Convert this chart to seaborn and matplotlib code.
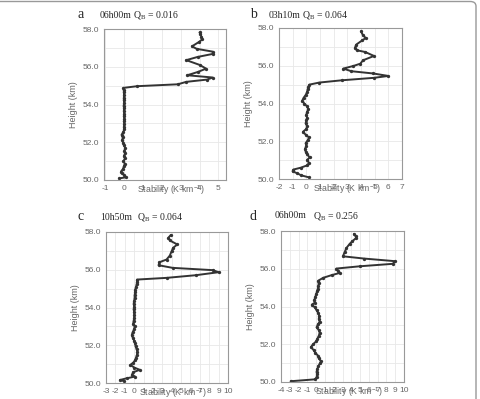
import numpy as np
import pandas as pd
import matplotlib
matplotlib.use("Agg")
import matplotlib.pyplot as plt
from matplotlib.patches import FancyBboxPatch
from matplotlib.ticker import MultipleLocator, FormatStrFormatter
import seaborn as sns

# stability (K/km) vs height (km) for the four runs
height_a = [50.08, 50.15, 50.25, 50.35, 50.45, 50.58, 50.72, 50.86, 51.0, 51.14, 51.28, 51.42,
            51.56, 51.7, 51.84, 51.98, 52.12, 52.26, 52.4, 52.54, 52.68, 52.82, 52.96, 53.1,
            53.24, 53.38, 53.52, 53.66, 53.8, 53.94, 54.08, 54.22, 54.36, 54.5, 54.64, 54.78,
            54.88, 54.97, 55.07, 55.2, 55.32, 55.43, 55.55, 55.72, 55.9, 56.1, 56.35, 56.52,
            56.68, 56.8, 56.95, 57.08, 57.3, 57.45, 57.6, 57.72, 57.82]
stab_a = [-0.25, 0.12, 0.02, -0.08, -0.15, -0.05, 0.0, 0.05, -0.02, 0.06, 0.0, 0.08,
          0.03, 0.07, 0.0, -0.04, -0.08, -0.06, -0.12, -0.03, 0.02, 0.0, 0.03, 0.0,
          0.03, 0.0, 0.02, 0.0, 0.01, -0.01, 0.02, 0.0, 0.0, 0.01, 0.0, 0.0,
          -0.02, 0.7, 2.85, 3.3, 4.4, 4.7, 3.35, 3.9, 4.35, 4.0, 3.3, 3.9,
          4.7, 4.7, 3.85, 3.6, 3.95, 4.15, 4.1, 4.05, 4.0]

height_b = [50.08, 50.2, 50.3, 50.4, 50.5, 50.6, 50.72, 50.85, 51.0, 51.15, 51.3, 51.45,
            51.6, 51.75, 51.9, 52.05, 52.2, 52.35, 52.5, 52.65, 52.8, 52.95, 53.1, 53.25,
            53.4, 53.55, 53.7, 53.85, 54.0, 54.15, 54.3, 54.45, 54.6, 54.75, 54.88, 55.0,
            55.11, 55.23, 55.36, 55.46, 55.59, 55.71, 55.85, 55.99, 56.11, 56.29, 56.52, 56.73,
            56.82, 56.94, 57.12, 57.35, 57.47, 57.61, 57.82]
stab_b = [0.22, -0.4, -0.65, -1.0, -0.95, -0.4, 0.05, 0.2, 0.05, 0.25, 0.05, -0.05,
          -0.1, 0.0, -0.05, 0.1, 0.2, -0.05, -0.25, 0.0, 0.05, -0.05, 0.0, 0.05,
          0.0, 0.05, 0.15, 0.05, -0.15, -0.3, -0.2, -0.05, 0.05, 0.1, 0.15, 0.22,
          0.95, 2.6, 4.95, 6.0, 4.9, 3.3, 2.7, 3.45, 3.95, 4.15, 4.95, 4.3,
          3.7, 3.55, 3.65, 4.1, 4.35, 4.15, 4.0]

height_c = [50.1, 50.16, 50.25, 50.34, 50.43, 50.57, 50.7, 50.82, 50.96, 51.08, 51.2, 51.35,
            51.5, 51.65, 51.8, 51.95, 52.1, 52.25, 52.4, 52.55, 52.7, 52.85, 53.0, 53.15,
            53.3, 53.45, 53.6, 53.75, 53.9, 54.05, 54.2, 54.35, 54.5, 54.65, 54.8, 54.95,
            55.1, 55.25, 55.36, 55.48, 55.57, 55.71, 55.87, 55.98, 56.1, 56.24, 56.4, 56.54,
            56.75, 56.99, 57.16, 57.34, 57.55, 57.7, 57.84]
stab_c = [-1.1, -1.5, -0.8, 0.1, -0.25, -0.1, 0.6, 0.0, -0.4, -0.1, 0.1, 0.2,
          0.3, 0.35, 0.25, 0.15, 0.1, 0.0, -0.15, -0.25, -0.15, 0.0, 0.05, -0.1,
          -0.05, 0.0, 0.02, 0.0, -0.05, 0.0, -0.05, 0.0, 0.05, 0.05, 0.1, 0.12,
          0.2, 0.28, 0.3, 0.3, 3.45, 6.55, 9.0, 8.35, 4.1, 2.6, 2.7, 3.45,
          3.8, 4.0, 4.15, 4.6, 3.8, 3.65, 3.9]

height_d = [50.04, 50.14, 50.25, 50.4, 50.55, 50.7, 50.85, 51.0, 51.1, 51.25, 51.4, 51.55,
            51.7, 51.85, 52.0, 52.15, 52.3, 52.45, 52.6, 52.75, 52.9, 53.05, 53.2, 53.35,
            53.5, 53.65, 53.8, 53.95, 54.1, 54.2, 54.35, 54.5, 54.65, 54.8, 54.95, 55.1,
            55.25, 55.37, 55.52, 55.66, 55.78, 55.9, 56.01, 56.13, 56.26, 56.4, 56.54, 56.66,
            56.89, 57.1, 57.31, 57.45, 57.63, 57.72, 57.84]
stab_d = [-2.9, -0.15, 0.05, 0.1, 0.05, 0.15, 0.25, 0.45, 0.55, 0.3, 0.2, -0.1,
          -0.3, -0.6, -0.35, 0.0, 0.15, 0.3, 0.4, 0.3, 0.05, 0.2, 0.4, 0.3,
          0.35, 0.25, 0.05, -0.15, -0.5, -0.15, -0.2, -0.1, 0.0, 0.1, 0.2, 0.25,
          0.3, 0.25, 0.8, 1.75, 2.7, 2.5, 2.3, 4.95, 8.7, 9.0, 5.45, 3.05,
          3.25, 3.45, 3.8, 4.1, 4.55, 4.5, 4.3]

panels = ["a", "b", "c", "d"]
times = ["06h00m", "03h10m", "10h50m", "06h00m"]
qb = ["0.016", "0.064", "0.064", "0.256"]
xlims = [(-1.05, 5.4), (-2, 7), (-3, 10), (-4, 10)]
heights = [height_a, height_b, height_c, height_d]
stabs = [stab_a, stab_b, stab_c, stab_d]

sns.set_style("white")
plt.rcParams["font.family"] = ["Liberation Sans", "DejaVu Sans"]
plt.rcParams["axes.unicode_minus"] = False
plt.rcParams["mathtext.default"] = "regular"

W, H = 481, 399
fig = plt.figure(figsize=(W / 100, H / 100), dpi=100)

# axes boxes in pixels: left, top, right, bottom
boxes = [(104, 29, 226, 180), (279, 28, 402, 179), (106, 232, 228, 383), (281, 231, 404, 382)]
# label letter x, time x, QB x, y (pixels)
heads = [(77, 100, 133, 15), (250, 269, 302, 15), (77, 100, 137, 217), (250, 275, 313, 216)]

gray = "#666666"
for i in range(4):
    l, t, r, b = boxes[i]
    ax = fig.add_axes([l / W, 1 - b / H, (r - l) / W, (b - t) / H])
    df = pd.DataFrame({"stability": stabs[i], "height": heights[i]})
    sns.lineplot(data=df, x="stability", y="height", sort=False, estimator=None,
                 color="#333333", lw=1.4, marker="o", markersize=2.4,
                 markeredgewidth=0, ax=ax)
    ax.set_xlim(*xlims[i])
    ax.set_ylim(50, 58)
    ax.xaxis.set_major_locator(MultipleLocator(1))
    ax.yaxis.set_major_locator(MultipleLocator(2))
    ax.yaxis.set_minor_locator(MultipleLocator(1))
    ax.yaxis.set_major_formatter(FormatStrFormatter("%.1f"))
    ax.grid(True, which="both", color="#e8e8e8", lw=0.6)
    ax.tick_params(axis="both", labelsize=6, colors=gray, length=2, width=0.5, pad=1.5)
    ax.tick_params(axis="y", which="minor", length=0)
    for s in ax.spines.values():
        s.set_color("#999999")
        s.set_linewidth(0.8)
    ax.set_ylabel("Height (km)", fontsize=6.5, color=gray, labelpad=3)
    ax.set_xlabel("Stability (K km$^{-1}$)", fontsize=6.3, color=gray, va="center")
    ax.xaxis.set_label_coords(0.55, -10.5 / (b - t))

    lx, tx, qx, y = heads[i]
    fig.text(lx / W, 1 - y / H, panels[i], fontsize=10, family="Liberation Serif",
             va="center", ha="left")
    fig.text(tx / W, 1 - y / H, times[i], fontsize=7, family="Liberation Serif",
             va="center", ha="left")
    fig.text(qx / W, 1 - y / H, "Q$_B$ = " + qb[i], fontsize=7, family="Liberation Serif",
             va="center", ha="left", math_fontfamily="stix")

frame = FancyBboxPatch((-0.05, -0.05), 476 / W + 0.05, 1 - 1.5 / H + 0.05,
                       boxstyle="round,pad=0,rounding_size=0.012",
                       transform=fig.transFigure, fill=False, ec="#999999", lw=1)
fig.patches.append(frame)

fig.savefig("out.png", dpi=100)
